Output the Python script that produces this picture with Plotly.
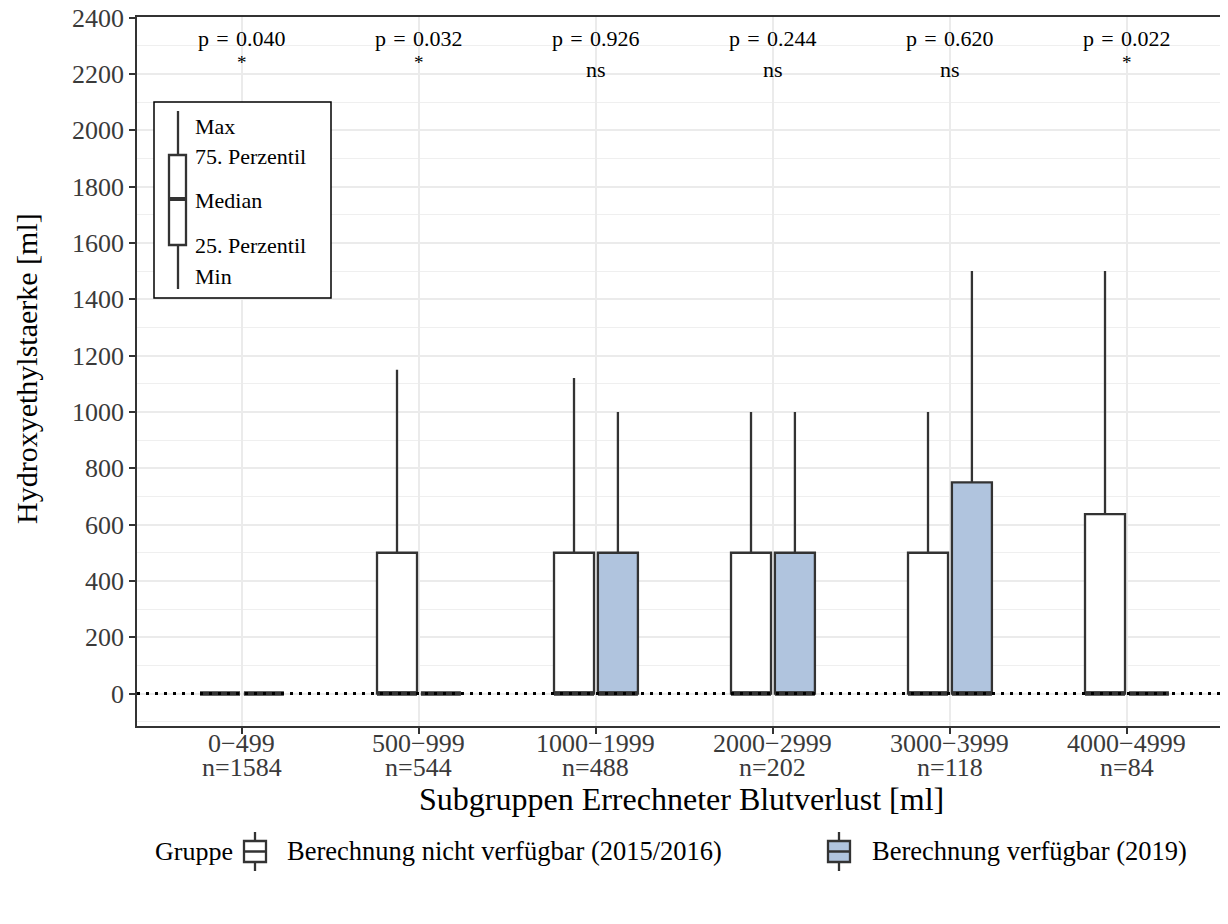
import plotly.graph_objects as go

# ---------------- data ----------------
categories = ["0\u2212499", "500\u2212999", "1000\u22121999", "2000\u22122999", "3000\u22123999", "4000\u22124999"]
n_counts = [1584, 544, 488, 202, 118, 84]
group_names = ["Berechnung nicht verfügbar (2015/2016)", "Berechnung verfügbar (2019)"]
group_colors = ["#FFFFFF", "#B0C4DE"]

# Gruppe 1: 2015/2016
g1_min = [0, 0, 0, 0, 0, 0]
g1_q1 = [0, 0, 0, 0, 0, 0]
g1_median = [0, 0, 0, 0, 0, 0]
g1_q3 = [0, 500, 500, 500, 500, 637.5]
g1_max = [0, 1150, 1120, 1000, 1000, 1500]

# Gruppe 2: 2019
g2_min = [0, 0, 0, 0, 0, 0]
g2_q1 = [0, 0, 0, 0, 0, 0]
g2_median = [0, 0, 0, 0, 0, 0]
g2_q3 = [0, 0, 500, 500, 750, 0]
g2_max = [0, 0, 1000, 1000, 1500, 0]

p_values = ["0.040", "0.032", "0.926", "0.244", "0.620", "0.022"]
signif = ["*", "*", "ns", "ns", "ns", "*"]

y_ticks = [0, 200, 400, 600, 800, 1000, 1200, 1400, 1600, 1800, 2000, 2200, 2400]

# ---------------- layout constants ----------------
W, H = 1228, 924
OFFX, OFFY = 8, 9          # page body margin offset of the figure
ML, MR, MT, MB = 129, 10, 9, 206
PLOT_W = W - ML - MR
PLOT_H = H - MT - MB
FONT = "Liberation Serif"
DARK = "#333333"
TXT = "#3A3A3A"
DODGE = 0.124
BOXW = 0.226
X_RANGE = [-0.593, -0.593 + PLOT_W / 177.0]
Y_RANGE = [-115, 2402]


def px(x):
    """reference-picture pixel x -> paper coordinate"""
    return (x - OFFX - ML) / PLOT_W


def py(y):
    """reference-picture pixel y -> paper coordinate"""
    return (H - MB - (y - OFFY)) / PLOT_H


fig = go.Figure()

groups = [
    (g1_min, g1_q1, g1_median, g1_q3, g1_max, -DODGE),
    (g2_min, g2_q1, g2_median, g2_q3, g2_max, DODGE),
]
for gi, (mn, q1, med, q3, mx, off) in enumerate(groups):
    xs = [i + off for i in range(len(categories))]
    fig.add_trace(go.Box(
        x=xs, q1=q1, median=med, q3=q3, lowerfence=mn, upperfence=mx,
        width=BOXW, whiskerwidth=0, boxpoints=False,
        fillcolor=group_colors[gi], line=dict(color=DARK, width=2.3),
        name=group_names[gi], hoverinfo="skip",
    ))
    # thick median segments
    mx_x, mx_y = [], []
    for x, m in zip(xs, med):
        mx_x += [x - BOXW / 2, x + BOXW / 2, None]
        mx_y += [m, m, None]
    fig.add_trace(go.Scatter(x=mx_x, y=mx_y, mode="lines",
                             line=dict(color=DARK, width=4.5),
                             showlegend=False, hoverinfo="skip"))

# dotted reference line at 0
fig.add_shape(type="line", xref="paper", yref="y", x0=0, x1=1, y0=0, y1=0,
              line=dict(color="black", width=3, dash="3px,6px"), layer="above")

annotations = []
SP = "\u2004"
# p-values and significance
for i, (p, s) in enumerate(zip(p_values, signif)):
    annotations.append(dict(x=i, y=2327, xref="x", yref="y", text=f"p{SP}={SP}{p}",
                            showarrow=False, yanchor="middle",
                            font=dict(family=FONT, size=22, color="black")))
    if s == "ns":
        annotations.append(dict(x=i, y=2215, xref="x", yref="y", text=s, showarrow=False, yanchor="middle",
                                font=dict(family=FONT, size=22, color="black")))
    else:
        annotations.append(dict(x=i, y=2240, xref="x", yref="y", text=s, showarrow=False, yanchor="middle",
                                font=dict(family=FONT, size=19, color="black")))

# x tick labels (two lines, tight spacing as in the reference)
for i, (c, n) in enumerate(zip(categories, n_counts)):
    annotations.append(dict(x=i, y=py(744), xref="x", yref="paper", text=c, showarrow=False,
                            font=dict(family=FONT, size=26, color=TXT), xanchor="center", yanchor="middle"))
    annotations.append(dict(x=i, y=py(769), xref="x", yref="paper", text=f"n={n}", showarrow=False,
                            font=dict(family=FONT, size=26, color=TXT), xanchor="center", yanchor="middle"))

# axis titles
annotations.append(dict(x=px(681.5), y=py(800), xref="paper", yref="paper",
                        text="Subgruppen Errechneter Blutverlust [ml]", showarrow=False,
                        xanchor="center", yanchor="middle",
                        font=dict(family=FONT, size=32, color="black")))
annotations.append(dict(x=px(26), y=py(370), xref="paper", yref="paper",
                        text="Hydroxyethylstaerke [ml]", showarrow=False, textangle=-90,
                        xanchor="center", yanchor="middle",
                        font=dict(family=FONT, size=30, color="black")))

# inner explanatory box legend
shapes = []
shapes.append(dict(type="rect", xref="paper", yref="paper", x0=px(154), x1=px(331), y0=py(299), y1=py(103),
                   line=dict(color="black", width=1.5), fillcolor="white", layer="above"))
shapes.append(dict(type="line", xref="paper", yref="paper", x0=px(178), x1=px(178), y0=py(290), y1=py(112),
                   line=dict(color=DARK, width=2.3), layer="above"))
shapes.append(dict(type="rect", xref="paper", yref="paper", x0=px(169), x1=px(186), y0=py(246), y1=py(156),
                   line=dict(color=DARK, width=2.3), fillcolor="white", layer="above"))
shapes.append(dict(type="line", xref="paper", yref="paper", x0=px(169), x1=px(186), y0=py(200), y1=py(200),
                   line=dict(color=DARK, width=4), layer="above"))
box_labels = [("Max", 128), ("75. Perzentil", 157), ("Median", 201), ("25. Perzentil", 246), ("Min", 277)]
for lab, yy in box_labels:
    annotations.append(dict(x=px(193), y=py(yy), xref="paper", yref="paper", text=lab, showarrow=False,
                            xanchor="left", yanchor="middle", font=dict(family=FONT, size=22, color="black")))

# bottom group legend
LEG_Y = 852
annotations.append(dict(x=px(235), y=py(LEG_Y), xref="paper", yref="paper", text="Gruppe", showarrow=False,
                        xanchor="right", yanchor="middle", font=dict(family=FONT, size=26, color="black")))
legend_items = [(244, 266, 285), (828, 850, 870)]
for gi, (x0, x1, tx) in enumerate(legend_items):
    xc = (x0 + x1) / 2
    shapes.append(dict(type="line", xref="paper", yref="paper", x0=px(xc), x1=px(xc), y0=py(872), y1=py(833),
                       line=dict(color=DARK, width=2.3)))
    shapes.append(dict(type="rect", xref="paper", yref="paper", x0=px(x0), x1=px(x1), y0=py(863), y1=py(842),
                       line=dict(color=DARK, width=2.3), fillcolor=group_colors[gi]))
    shapes.append(dict(type="line", xref="paper", yref="paper", x0=px(x0), x1=px(x1), y0=py(852.5), y1=py(852.5),
                       line=dict(color=DARK, width=2.5)))
    annotations.append(dict(x=px(tx), y=py(LEG_Y), xref="paper", yref="paper", text=group_names[gi],
                            showarrow=False, xanchor="left", yanchor="middle",
                            font=dict(family=FONT, size=26.5, color="black")))

for s in shapes:
    fig.add_shape(**s)

fig.update_layout(
    width=W, height=H,
    margin=dict(l=ML, r=MR, t=MT, b=MB, autoexpand=False),
    plot_bgcolor="white", paper_bgcolor="white",
    showlegend=False,
    annotations=annotations,
    font=dict(family=FONT),
)
fig.update_xaxes(
    range=X_RANGE, tickvals=list(range(len(categories))), ticktext=[""] * len(categories),
    showticklabels=False, ticks="outside", ticklen=6, tickwidth=1.5, tickcolor=DARK,
    showgrid=True, gridcolor="#EBEBEB", gridwidth=1.8, zeroline=False, automargin=False,
    showline=True, mirror=True, linecolor=DARK, linewidth=1.5,
)
fig.update_yaxes(
    range=Y_RANGE, tickvals=y_ticks, ticks="outside", ticklen=6, tickwidth=1.5, tickcolor=DARK,
    tickfont=dict(family=FONT, size=26, color=TXT), ticklabeloverflow="allow", automargin=False,
    showgrid=True, gridcolor="#EBEBEB", gridwidth=1.8, zeroline=False,
    minor=dict(dtick=100, tick0=0, showgrid=True, gridcolor="#EFEFEF", gridwidth=0.9, ticks=""),
    showline=True, mirror=True, linecolor=DARK, linewidth=1.5,
)

fig.write_html("out.html")
